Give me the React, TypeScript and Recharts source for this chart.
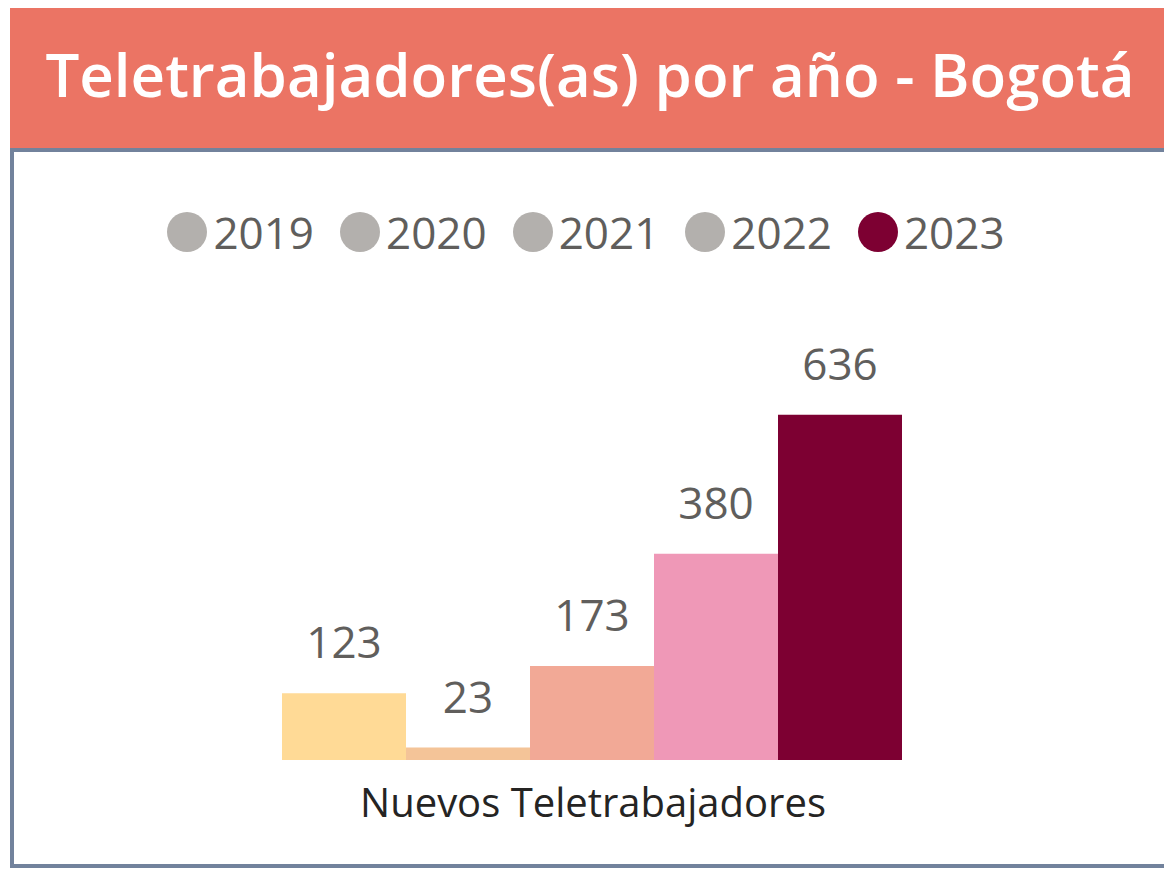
import { Bar, BarChart, LabelList, XAxis, YAxis } from 'recharts'

const categories = ['Nuevos Teletrabajadores']
const years = ['2019', '2020', '2021', '2022', '2023']
const values = [123, 23, 173, 380, 636]
const barColors = ['#FFDA96', '#F4C498', '#F2A996', '#EF98B7', '#7D0032']
const legendColors = ['#B3B0AD', '#B3B0AD', '#B3B0AD', '#B3B0AD', '#7D0032']

const FONT = '"Open Sans", "Noto Sans", sans-serif'

const data = categories.map((name) => {
  const row: Record<string, string | number> = { name }
  years.forEach((y, i) => {
    row[y] = values[i]
  })
  return row
})

function YearLegend() {
  return (
    <div
      style={{
        position: 'absolute',
        top: 198,
        left: -4,
        width: 1164,
        display: 'flex',
        justifyContent: 'center',
        gap: 26,
        fontFamily: FONT,
        fontSize: 44,
        color: '#605E5C',
        lineHeight: '52px',
      }}
    >
      {years.map((y, i) => (
        <div key={y} style={{ display: 'flex', alignItems: 'center', gap: 6 }}>
          <span
            style={{
              width: 40,
              height: 40,
              borderRadius: '50%',
              background: legendColors[i],
              display: 'inline-block',
            }}
          />
          <span>{y}</span>
        </div>
      ))}
    </div>
  )
}

export default function App() {
  return (
    <div style={{ position: 'relative', width: 1164, height: 869 }}>
      <div
        style={{
          position: 'absolute',
          left: 2,
          top: 0,
          width: 1160,
          height: 140,
          background: '#EB7464',
          color: '#fff',
          fontFamily: FONT,
          fontWeight: 600,
          fontSize: 60,
          display: 'flex',
          alignItems: 'center',
          justifyContent: 'center',
          paddingBottom: 8,
          boxSizing: 'border-box',
        }}
      >
        Teletrabajadores(as) por año - Bogotá
      </div>
      <div
        style={{
          position: 'absolute',
          left: 2,
          top: 140,
          width: 1158,
          height: 720,
          boxSizing: 'border-box',
          border: '4px solid #72829C',
          background: '#fff',
        }}
      />
      <YearLegend />
      <div style={{ position: 'absolute', left: 0, top: 0 }}>
        <BarChart
          width={1164}
          height={862}
          data={data}
          margin={{ top: 372, right: 268, left: 274, bottom: 50 }}
          barCategoryGap={0}
          barGap={0}
        >
          <XAxis
            dataKey="name"
            height={60}
            axisLine={false}
            tickLine={false}
            tickMargin={23}
            tick={{ fontFamily: FONT, fontSize: 40, fill: '#252423' }}
          />
          <YAxis hide domain={[0, 700]} tickCount={8} />
          {years.map((y, i) => (
            <Bar
              key={y}
              dataKey={y}
              fill={barColors[i]}
              isAnimationActive={false}
            >
              <LabelList
                dataKey={y}
                position="top"
                offset={35}
                style={{ fontFamily: FONT, fontSize: 44, fill: '#605E5C' }}
              />
            </Bar>
          ))}
        </BarChart>
      </div>
    </div>
  )
}
